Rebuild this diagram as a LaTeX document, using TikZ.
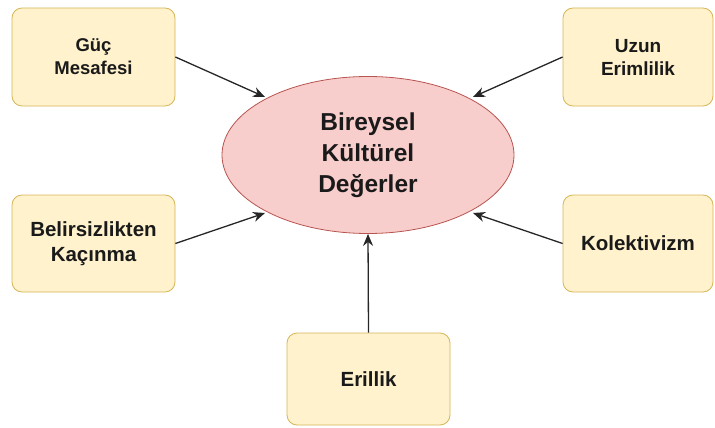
\documentclass[tikz,border=0pt]{standalone}
\usepackage{fontspec}
\setmainfont{Liberation Sans}
\usetikzlibrary{shapes.geometric,arrows.meta}
\definecolor{boxfill}{HTML}{FFF2CC}
\definecolor{boxdraw}{HTML}{D6B656}
\definecolor{elfill}{HTML}{F8CECC}
\definecolor{eldraw}{HTML}{B85450}
\definecolor{txt}{HTML}{1A1A1A}
\tikzset{
  factor/.style={draw=boxdraw, fill=boxfill, rounded corners=10pt, line width=0.8pt,
    align=center, font=\fontsize{19}{24}\selectfont\bfseries, text=txt, inner sep=0pt},
  centre/.style={ellipse, draw=eldraw, fill=elfill, line width=0.8pt, align=center,
    font=\fontsize{24.5}{31}\selectfont\bfseries, text=txt, inner sep=0pt},
  link/.style={-{Stealth[length=12pt,width=10pt]}, line width=1.3pt, draw=black!85}
}
\begin{document}
\begin{tikzpicture}[x=1pt,y=-1pt]
\useasboundingbox (0,0) rectangle (715,428);
\node[centre, minimum width=292pt, minimum height=157pt] (c) at (368,155) {Bireysel\\Kültürel\\Değerler};
\node[factor, minimum width=163pt, minimum height=98pt, font=\fontsize{18.5}{23}\selectfont\bfseries] (g) at (93.5,57) {Güç\\Mesafesi};
\node[factor, minimum width=150pt, minimum height=98pt, font=\fontsize{19}{23}\selectfont\bfseries] (u) at (638,57) {Uzun\\Erimlilik};
\node[factor, minimum width=163pt, minimum height=97pt, font=\fontsize{20.5}{25}\selectfont\bfseries] (b) at (93.5,243.5) {Belirsizlikten\\Kaçınma};
\node[factor, minimum width=150pt, minimum height=97pt, font=\fontsize{20.5}{25}\selectfont\bfseries] (k) at (638,243.5) {Kolektivizm};
\node[factor, minimum width=163pt, minimum height=92pt, font=\fontsize{20.5}{25}\selectfont\bfseries] (e) at (368.5,379) {Erillik};
\coordinate (cg) at (265,97);
\coordinate (cu) at (473,97);
\coordinate (cb) at (265,213);
\coordinate (ck) at (473,213);
\draw[link] (g.east) -- (cg);
\draw[link] (u.west) -- (cu);
\draw[link] (b.east) -- (cb);
\draw[link] (k.west) -- (ck);
\draw[link] (e.north) -- (c.south);
\end{tikzpicture}
\end{document}
